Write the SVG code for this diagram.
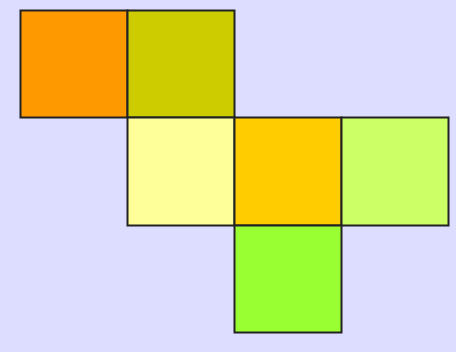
<svg xmlns="http://www.w3.org/2000/svg" width="456" height="352" viewBox="0 0 456 352">
<style>
rect.f{stroke:#222;stroke-width:2}
</style>
<rect x="0" y="0" width="456" height="352" fill="#DDDDFF"/>
<g id="face1"><rect class="f" x="20.5" y="10.5" width="107" height="107" fill="#FF9900"/></g>
<g id="face2"><rect class="f" x="127.5" y="10.5" width="107" height="107" fill="#CCCC00"/></g>
<g id="face3"><rect class="f" x="127.5" y="117.5" width="107" height="108" fill="#FFFF99"/></g>
<g id="face4"><rect class="f" x="234.5" y="117.5" width="107" height="108" fill="#FFCC00"/></g>
<g id="face5"><rect class="f" x="341.5" y="117.5" width="107" height="108" fill="#CCFF66"/></g>
<g id="face6"><rect class="f" x="234.5" y="225.5" width="107" height="107" fill="#99FF33"/></g>
<g id="connectors"></g>
</svg>
